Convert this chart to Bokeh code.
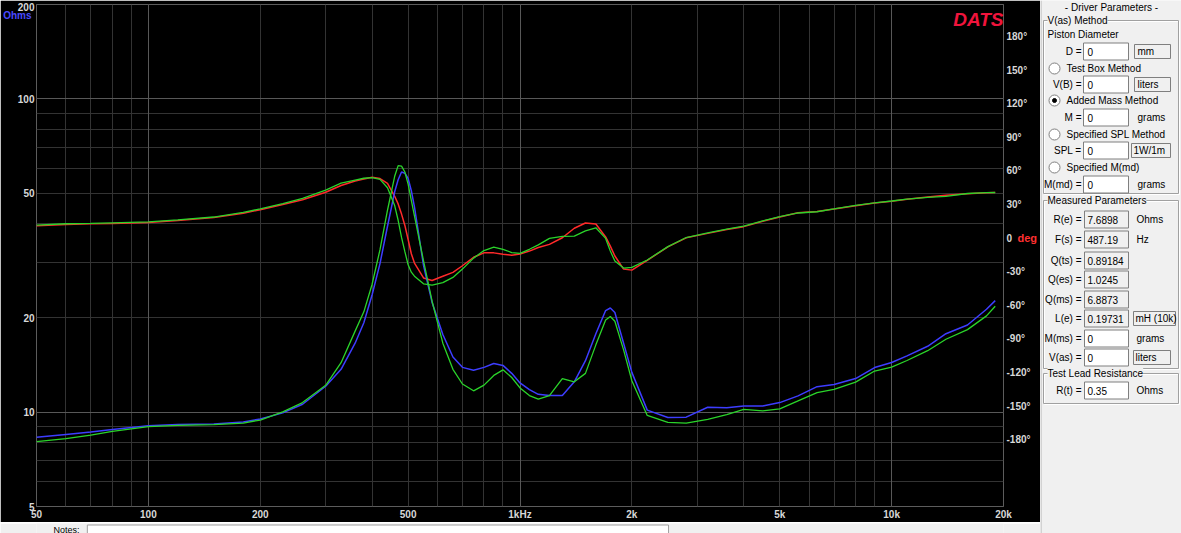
from bokeh.plotting import figure
from bokeh.layouts import row, column
from bokeh.models import Range1d, LinearAxis, LogAxis, LinearScale, FixedTicker, Grid, Label
from bokeh.embed import file_html
from bokeh.resources import INLINE
from bokeh.core.properties import value

# ---------------- data ----------------
freq_hz = [50, 60, 70, 80, 100, 120, 150, 180, 200, 230, 260, 300, 330, 360, 380,
           400, 420, 440, 460, 470, 480, 490, 500, 510, 520, 550, 580, 620, 660, 700,
           750, 800, 850, 900, 950, 1000, 1060, 1120, 1200, 1300, 1400, 1500, 1600,
           1700, 1750, 1800, 1900, 2000, 2200, 2500, 2800, 3200, 3600, 4000, 4500,
           5000, 5600, 6300, 7000, 8000, 9000, 10000, 11000, 12500, 14000, 16000,
           18000, 19000]

impedance_measured = [8.31, 8.49, 8.64, 8.80, 9.05, 9.14, 9.17, 9.30, 9.51, 9.95, 10.6,
                      12.1, 13.7, 16.6, 19.3, 23.7, 29.8, 39.2, 50.5, 55.2, 58.4, 57.9,
                      55.7, 50.9, 45.2, 29.4, 22.4, 17.7, 15.0, 13.9, 13.6, 13.9, 14.3,
                      14.1, 13.3, 12.4, 11.8, 11.4, 11.3, 11.3, 12.5, 14.6, 17.8, 21.1,
                      21.5, 20.8, 16.6, 13.4, 10.15, 9.62, 9.64, 10.37, 10.33, 10.47,
                      10.47, 10.73, 11.27, 12.06, 12.25, 12.80, 13.88, 14.41, 15.12,
                      16.23, 17.8, 18.98, 21.3, 22.7]

impedance_model = [8.05, 8.23, 8.45, 8.68, 8.99, 9.08, 9.12, 9.23, 9.44, 10.02, 10.73,
                   12.18, 14.38, 18.14, 20.9, 25.6, 33.0, 44.1, 56.6, 61.2, 61.0, 58.4,
                   53.4, 47.4, 42.3, 30.4, 22.6, 16.6, 13.7, 12.3, 11.7, 12.2, 13.1,
                   13.65, 12.9, 11.95, 11.3, 11.0, 11.3, 12.8, 12.5, 13.3, 16.4, 19.7,
                   20.2, 19.5, 15.8, 12.6, 9.76, 9.28, 9.22, 9.49, 9.82, 10.21, 10.10,
                   10.24, 10.86, 11.54, 11.83, 12.47, 13.53, 13.93, 14.62, 15.71, 17.09,
                   18.34, 20.29, 21.78]

phase_measured = [11.1, 12.2, 12.7, 13.1, 14.0, 15.7, 18.3, 22.2, 25.3, 29.9, 34.2, 40.9,
                  46.9, 50.9, 52.7, 54.3, 53.1, 48.9, 37.3, 30.5, 21.4, 11.3, -1.3, -14.0,
                  -22.3, -35.6, -37.8, -34.1, -30.6, -24.7, -17.1, -13.2, -13.2, -14.5,
                  -15.3, -14.3, -11.6, -8.4, -5.6, 0.3, 8.8, 13.5, 12.5, 1.0, -7.2, -16.0,
                  -27.7, -28.6, -19.9, -7.8, 0.2, 4.2, 7.6, 10.2, 15.0, 18.9, 22.7, 23.8,
                  25.9, 28.9, 31.3, 32.9, 34.6, 36.6, 38.2, 39.6, 40.4, 40.7]

phase_model = [11.6, 12.8, 13.2, 13.6, 14.4, 16.2, 18.8, 22.9, 26.1, 30.8, 35.4, 42.8,
               49.0, 51.7, 53.4, 54.0, 52.4, 44.9, 29.0, 15.9, 0.6, -12.1, -23.8, -30.4,
               -34.0, -40.8, -42.0, -39.8, -35.1, -27.7, -17.9, -11.1, -8.0, -10.0, -12.9,
               -13.6, -10.0, -6.1, -0.3, 1.5, 1.8, 6.4, 9.2, -0.3, -11.6, -20.4, -26.8,
               -26.2, -19.6, -7.6, 0.5, 4.6, 8.0, 10.6, 15.4, 19.2, 22.4, 23.5, 26.1,
               29.2, 31.5, 33.1, 34.8, 36.4, 37.2, 39.8, 40.6, 40.7]

freq_ticks = [50, 100, 200, 500, 1000, 2000, 5000, 10000, 20000]
freq_tick_labels = ["50", "100", "200", "500", "1kHz", "2k", "5k", "10k", "20k"]
ohm_ticks = [5, 10, 20, 50, 100, 196]
ohm_tick_labels = ["5", "10", "20", "50", "100", "200"]
ohm_unit_tick, ohm_unit_label = 184, "Ohms"
phase_ticks = [-180, -150, -120, -90, -60, -30, 0, 30, 60, 90, 120, 150, 180]
phase_tick_labels = ["-180°", "-150°", "-120°", "-90°", "-60°", "-30°", "0",
                     "30°", "60°", "90°", "120°", "150°", "180°"]
phase_unit_tick, phase_unit_label = 0, "deg"
brand = "DATS"
notes_label = "Notes:"

panel_title = "- Driver Parameters -"
vas_group_title = "V(as) Method"
piston_text = "Piston Diameter"
vas_methods = ["Test Box Method", "Added Mass Method", "Specified SPL Method", "Specified M(md)"]
vas_selected = [False, True, False, False]
input_labels = ["D =", "V(B) =", "M =", "SPL =", "M(md) ="]
input_values = ["0", "0", "0", "0", "0"]
input_units = ["mm", "liters", "grams", "1W/1m", "grams"]
input_unit_boxed = [True, True, False, True, False]
measured_title = "Measured Parameters"
measured_labels = ["R(e) =", "F(s) =", "Q(ts) =", "Q(es) =", "Q(ms) =", "L(e) =", "M(ms) =", "V(as) ="]
measured_values = ["7.6898", "487.19", "0.89184", "1.0245", "6.8873", "0.19731", "0", "0"]
measured_units = ["Ohms", "Hz", "", "", "", "mH (10k)", "grams", "liters"]
measured_unit_boxed = [False, False, False, False, False, True, False, True]
measured_editable = [False, False, False, False, False, False, True, True]
lead_title = "Test Lead Resistance"
lead_label, lead_value, lead_unit = "R(t) =", "0.35", "Ohms"

# ---------------- styles ----------------
FONT = "Liberation Sans"
BLUE = "#3d3dff"
GREEN = "#2ad42a"
RED = "#ff2a2a"
TICK_COLOR = "#d8d8d8"
PANEL_BG = "#f0f0f0"

# ---------------- chart ----------------
p = figure(width=1040, height=522, x_axis_type="log", y_axis_type="log",
           x_range=Range1d(50, 20000), y_range=Range1d(5, 200),
           output_backend="svg", toolbar_location=None,
           min_border_left=36, min_border_right=34, min_border_top=4, min_border_bottom=14,
           background_fill_color="black", border_fill_color="black",
           outline_line_color="#5c5c5c")
p.extra_y_ranges = {"phase": Range1d(-239.6, 208.5)}
p.extra_y_scales = {"phase": LinearScale()}

grid_x = [m * 10 ** e for e in range(1, 5) for m in range(1, 10) if 50 <= m * 10 ** e <= 20000]
grid_y = [m * 10 ** e for e in range(0, 3) for m in range(1, 10) if 5 <= m * 10 ** e <= 200]
p.xgrid.ticker = FixedTicker(ticks=grid_x)
p.ygrid.ticker = FixedTicker(ticks=grid_y)
p.grid.grid_line_color = "#333333"
p.grid.grid_line_width = 1
p.add_layout(Grid(dimension=0, ticker=FixedTicker(ticks=[100, 1000, 10000]),
                  grid_line_color="#585858"))
p.add_layout(Grid(dimension=1, ticker=FixedTicker(ticks=[10, 100]),
                  grid_line_color="#585858"))

p.xaxis.ticker = FixedTicker(ticks=freq_ticks)
p.xaxis.major_label_overrides = dict(zip(freq_ticks, freq_tick_labels))
p.yaxis.ticker = FixedTicker(ticks=ohm_ticks)
p.yaxis.major_label_overrides = dict(zip(ohm_ticks, ohm_tick_labels))

# unit caption "Ohms" (second left axis, pulled back into the tick-label column)
uax = LogAxis(ticker=FixedTicker(ticks=[ohm_unit_tick]),
              major_label_overrides={ohm_unit_tick: ohm_unit_label})
p.add_layout(uax, "left")

pax = LinearAxis(y_range_name="phase", ticker=FixedTicker(ticks=phase_ticks),
                 major_label_overrides=dict(zip(phase_ticks, phase_tick_labels)))
p.add_layout(pax, "right")
dax = LinearAxis(y_range_name="phase", ticker=FixedTicker(ticks=[phase_unit_tick]),
                 major_label_overrides={phase_unit_tick: phase_unit_label})
p.add_layout(dax, "right")

for ax in p.xaxis + p.yaxis + [pax, dax]:
    ax.axis_line_color = None
    ax.major_tick_line_color = None
    ax.minor_tick_line_color = None
    ax.major_tick_out = 0
    ax.major_tick_in = 0
    ax.minor_tick_out = 0
    ax.minor_tick_in = 0
    ax.major_label_text_font = FONT
    ax.major_label_text_font_style = "bold"
    ax.major_label_text_font_size = "10px"
    ax.major_label_text_color = TICK_COLOR
    ax.major_label_standoff = 2
pax.major_label_standoff = 3
uax.major_label_text_color = "#4a4aff"
uax.major_label_standoff = -17
dax.major_label_text_color = "#ff3030"
dax.major_label_text_font_size = "11px"
dax.major_label_standoff = -16

p.line(freq_hz, phase_measured, y_range_name="phase", line_color=RED, line_width=1.5)
p.line(freq_hz, impedance_measured, line_color=BLUE, line_width=1.5)
p.line(freq_hz, phase_model, y_range_name="phase", line_color=GREEN, line_width=1.3)
p.line(freq_hz, impedance_model, line_color=GREEN, line_width=1.3)

p.add_layout(Label(x=967, y=487, x_units="screen", y_units="screen", text=brand,
                   text_align="right", text_baseline="alphabetic", text_font=FONT,
                   text_font_style="bold italic", text_font_size="19px", text_color="#f0143c"))

# ---------------- notes strip (its frame is aligned with the chart frame: 36..1006) ----------------
n = figure(width=1040, height=11, x_range=Range1d(36, 1006), y_range=Range1d(533, 522),
           output_backend="svg", toolbar_location=None, min_border=0,
           x_axis_location=None, y_axis_location=None,
           background_fill_color=PANEL_BG, border_fill_color=PANEL_BG, outline_line_color=None)
n.grid.visible = False
n.quad(left=[87], right=[670], top=[523.5], bottom=[534], fill_color="white", line_color="#a0a0a0")
n.text(x=[53], y=[533], text=[notes_label], text_baseline="bottom", text_align="left",
       text_font=value(FONT), text_font_size="9px", text_color="black")

# ---------------- side panel ----------------
q = figure(width=141, height=533, x_range=Range1d(1040, 1181), y_range=Range1d(533, 0),
           output_backend="svg", toolbar_location=None, min_border=0,
           x_axis_location=None, y_axis_location=None,
           background_fill_color=PANEL_BG, border_fill_color=PANEL_BG,
           outline_line_color=None)
q.grid.visible = False

TXT = dict(text_font=value(FONT), text_font_size="10px", text_color="black",
           text_baseline="middle")


def texts(xs, ys, ss, align="left"):
    q.text(x=xs, y=ys, text=ss, text_align=align, **TXT)


def boxes(x0, x1, yc, h, fill):
    q.quad(left=x0, right=x1, top=[y - h / 2 for y in yc], bottom=[y + h / 2 for y in yc],
           fill_color=fill, line_color="#7f7f7f", line_width=1)


q.segment(x0=[1040.5], y0=[0], x1=[1040.5], y1=[533], line_color="#b4b4b4", line_width=1)

texts([1111], [7], [panel_title], align="center")

g_left, g_right = 1043, 1178
groups = [(vas_group_title, 20, 193), (measured_title, 200, 368), (lead_title, 373, 403)]
q.quad(left=[g_left + 1] * 3, right=[g_right + 1] * 3, top=[g[1] + 1 for g in groups],
       bottom=[g[2] + 1 for g in groups], fill_color=None, line_color="white")
q.quad(left=[g_left] * 3, right=[g_right] * 3, top=[g[1] for g in groups],
       bottom=[g[2] for g in groups], fill_color=None, line_color="#a0a0a0")
for title, top, _ in groups:
    q.add_layout(Label(x=1047, y=top, text=title, text_font=FONT, text_font_size="10px",
                       text_baseline="middle", text_color="black",
                       background_fill_color=PANEL_BG))

texts([1047], [34], [piston_text])

in_y = [51, 84, 117, 150, 184]
texts([1081] * 5, in_y, input_labels, align="right")
boxes([1083] * 5, [1128] * 5, in_y, 17, "white")
texts([1087] * 5, in_y, input_values)
bx = [(u, y) for u, y, b in zip(input_units, in_y, input_unit_boxed) if b]
boxes([1131 if u == "1W/1m" else 1134 for u, _ in bx], [1170] * len(bx),
      [y for _, y in bx], 14, PANEL_BG)
texts([1133 if u == "1W/1m" else 1137 for u, _ in bx], [y for _, y in bx],
      [u for u, _ in bx])
pl = [(u, y) for u, y, b in zip(input_units, in_y, input_unit_boxed) if not b]
texts([1137] * len(pl), [y for _, y in pl], [u for u, _ in pl])

rad_y = [68, 100, 134, 167]
q.scatter([1054] * 4, rad_y, size=11, marker="circle", fill_color="white",
          line_color="#808080", line_width=1)
sel_y = [y for y, s in zip(rad_y, vas_selected) if s]
q.scatter([1054] * len(sel_y), sel_y, size=4, marker="circle", fill_color="black",
          line_color="black")
texts([1066] * 4, rad_y, vas_methods)

m_y = [219, 239, 260, 279, 299, 318, 338, 357]
texts([1081] * 8, m_y, measured_labels, align="right")
boxes([1084] * 8, [1128] * 8, m_y, 17,
      ["white" if e else PANEL_BG for e in measured_editable])
texts([1087] * 8, m_y, measured_values)
mb = [(u, y) for u, y, b in zip(measured_units, m_y, measured_unit_boxed) if b]
boxes([1133] * len(mb), [1175 if u.startswith("mH") else 1170 for u, _ in mb],
      [y for _, y in mb], 14, PANEL_BG)
texts([1135] * len(mb), [y for _, y in mb], [u for u, _ in mb])
mp = [(u, y) for u, y, b in zip(measured_units, m_y, measured_unit_boxed) if u and not b]
texts([1136] * len(mp), [y for _, y in mp], [u for u, _ in mp])

texts([1081], [390], [lead_label], align="right")
boxes([1084], [1128], [390], 17, "white")
texts([1087], [390], [lead_value])
texts([1136], [390], [lead_unit])

layout = row(column(p, n), q)
open("out.html", "w").write(file_html(layout, INLINE))
